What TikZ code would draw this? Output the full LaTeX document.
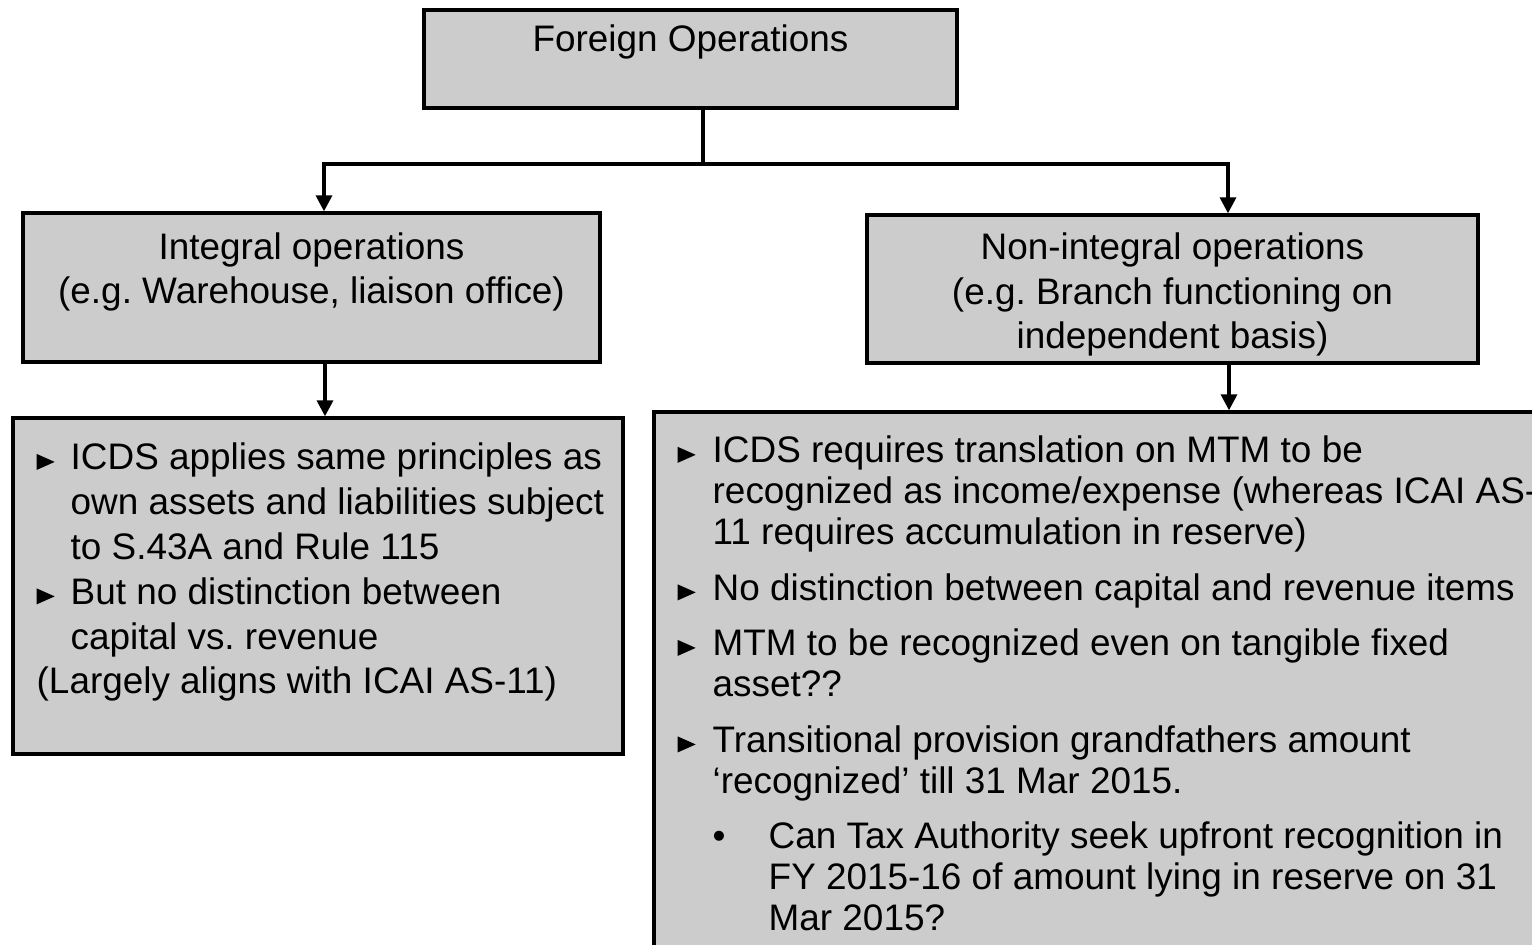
\documentclass[tikz,border=0pt]{standalone}
\usepackage{fontspec}
\setmainfont{Liberation Sans}
\usetikzlibrary{arrows.meta}
\frenchspacing
\definecolor{boxgray}{HTML}{CCCCCC}
\tikzset{
  opbox/.style={draw, fill=boxgray, line width=0.033cm, inner sep=0pt},
  optext/.style={inner sep=0pt, font=\fontsize{10.5}{12.75}\selectfont},
}
\newcommand{\tribul}{\tikz[baseline=0pt]\fill (0,0) -- (0.18,0.08) -- (0,0.16) -- cycle;}
\begin{document}
\begin{tikzpicture}[>={Triangle[width=0.16cm,length=0.16cm]}, line width=0.033cm]
\useasboundingbox (0,0) rectangle (15.32,-9.45);
\clip (0,0) rectangle (15.32,-9.45);

% Boxes (top row)
\node (top) at (6.905,-0.59) [opbox, minimum width=5.33cm, minimum height=0.98cm] {};
\node (topTxt) at (6.905,-0.52) [optext, anchor=base] {Foreign Operations};

% Boxes (middle row), text placed by its last baseline
\node (intl) at (3.115,-2.875) [opbox, minimum width=5.77cm, minimum height=1.49cm] {};
\node (nonintl) at (11.725,-2.89) [opbox, minimum width=6.11cm, minimum height=1.48cm] {};
\node (intlTxt) at (3.115,-3.04) [optext, anchor=base, align=center]
  {Integral operations\\(e.g. Warehouse, liaison office)};
\node (nonintlTxt) at (11.725,-3.49) [optext, anchor=base, align=center]
  {Non-integral operations\\(e.g. Branch functioning on\\independent basis)};

% Boxes (bottom row)
\node (intlNote) at (3.18,-5.86) [opbox, minimum width=6.10cm, minimum height=3.36cm] {};
\node (nonintlNote) at (11.07,-6.91) [opbox, minimum width=9.06cm, minimum height=5.58cm] {};
\node (intlNoteTxt) at (0.36,-6.94) [optext, anchor=base west, align=left]
  {\makebox[0.34cm][l]{\tribul}ICDS applies same principles as\\
   \hspace*{0.34cm}own assets and liabilities subject\\
   \hspace*{0.34cm}to S.43A and Rule 115\\
   \makebox[0.34cm][l]{\tribul}But no distinction between\\
   \hspace*{0.34cm}capital vs. revenue\\
   (Largely aligns with ICAI AS-11)};
\node (nonintlNoteTxt) at (6.77,-9.31) [optext, anchor=base west, align=left, font=\fontsize{10.5}{11.67}\selectfont]
  {\makebox[0.35cm][l]{\tribul}ICDS requires translation on MTM to be\\
   \hspace*{0.35cm}recognized as income/expense (whereas ICAI AS-\\
   \hspace*{0.35cm}11 requires accumulation in reserve)\\[0.145cm]
   \makebox[0.35cm][l]{\tribul}No distinction between capital and revenue items\\[0.145cm]
   \makebox[0.35cm][l]{\tribul}MTM to be recognized even on tangible fixed\\
   \hspace*{0.35cm}asset??\\[0.145cm]
   \makebox[0.35cm][l]{\tribul}Transitional provision grandfathers amount\\
   \hspace*{0.35cm}‘recognized’ till 31 Mar 2015.\\[0.145cm]
   \hspace*{0.35cm}\makebox[0.56cm][l]{•}Can Tax Authority seek upfront recognition in\\
   \hspace*{0.91cm}FY 2015-16 of amount lying in reserve on 31\\
   \hspace*{0.91cm}Mar 2015?};

% Split points
\coordinate (split) at (7.03,-1.64);
\coordinate (splitL) at (3.24,-1.64);
\coordinate (splitR) at (12.28,-1.64);

% From top to middle
\draw (top.south -| split) -- (split);
\draw[->] (split) -- (splitL) -- (splitL |- intl.north);
\draw[->] (split) -- (splitR) -- (splitR |- nonintl.north);

% From middle to bottom
\draw[->] ([xshift=0.135cm]intl.south) -- ([xshift=0.135cm]intl.south |- intlNote.north);
\draw[->] ([xshift=0.565cm]nonintl.south) -- ([xshift=0.565cm]nonintl.south |- nonintlNote.north);

\end{tikzpicture}
\end{document}
